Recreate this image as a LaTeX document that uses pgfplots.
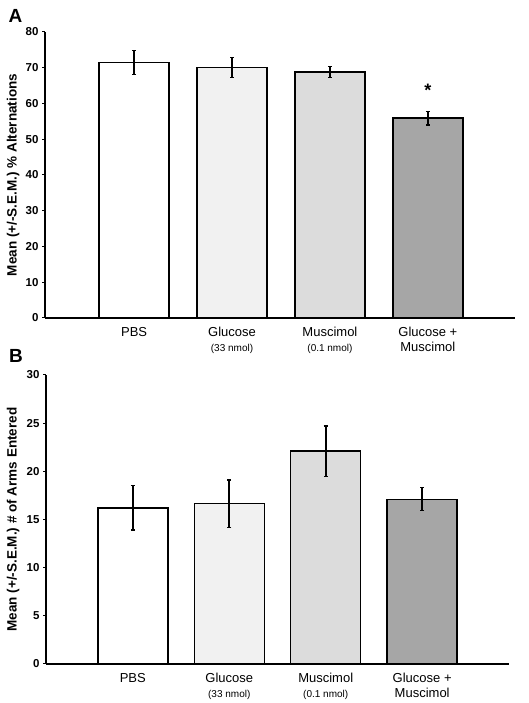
\documentclass[border=0pt]{standalone}
\usepackage{pgfplots}
\pgfplotsset{compat=1.18}
\usepackage{fontspec}
\setmainfont{Liberation Sans}
\definecolor{cGlu}{HTML}{F1F1F1}
\definecolor{cMus}{HTML}{DCDCDC}
\definecolor{cGM}{HTML}{A6A6A6}
\begin{document}
\begin{tikzpicture}[x=1pt,y=1pt]
\useasboundingbox (0,0) rectangle (528,703);
\pgfplotsset{
  myax/.style={
    scale only axis,
    axis x line=bottom, axis y line=left,
    axis line style={line width=1.3pt,-},
    xmin=-0.91, xmax=3.89,
    xtick={0,1,2,3},
    xtick style={draw=none},
    x tick label style={font=\fontsize{13}{15}\selectfont, align=center, anchor=north, yshift=-3pt},
    ytick style={line width=1pt, black},
    tick align=outside,
    major tick length=3pt,
    y tick label style={font=\fontsize{11.5}{12}\selectfont\bfseries},
    /pgf/number format/assume math mode=true,
    ylabel style={font=\fontsize{13.5}{14}\selectfont\bfseries, anchor=center, rotate=0},
    clip=false,
  },
  mybar/.style={ybar, bar shift=0pt, bar width=70pt, draw=black, line width=1.5pt,
    error bars/.cd, y dir=both, y explicit,
    error bar style={line width=1.8pt, black},
    error mark options={rotate=90, mark size=2pt, line width=1.2pt, black},
    /pgfplots/.cd},
}
% Panel A
\begin{axis}[myax, at={(45pt,385pt)}, anchor=south west,
  width=470pt, height=286pt,
  ymin=0, ymax=80, ytick={0,10,...,80},
  ylabel={Mean (+/-S.E.M.) \% Alternations},
  ylabel style={at={(axis description cs:-0.068,0.5)}},
  xticklabels={PBS\\\strut, Glucose\\{\fontsize{10}{15}\selectfont (33 nmol)}, Muscimol\\{\fontsize{10}{15}\selectfont (0.1 nmol)}, {Glucose +\\Muscimol}},
]
\addplot[mybar, fill=white] coordinates {(0,71.5) +- (0,3.3)};
\addplot[mybar, fill=cGlu] coordinates {(1,70.1) +- (0,2.8)};
\addplot[mybar, fill=cMus] coordinates {(2,68.8) +- (0,1.5)};
\addplot[mybar, fill=cGM] coordinates {(3,55.9) +- (0,1.9)};
\node[font=\fontsize{18}{18}\selectfont\bfseries] at (axis cs:3,63.6) {*};
\node[font=\fontsize{19}{19}\selectfont\bfseries, anchor=north west] at (rel axis cs:-0.085,1.09) {A};
\end{axis}
% Panel B
\begin{axis}[myax, at={(46pt,39pt)}, anchor=south west,
  width=463pt, height=289pt,
  ymin=0, ymax=30, ytick={0,5,...,30},
  ylabel={Mean (+/-S.E.M.) \# of Arms Entered},
  ylabel style={at={(axis description cs:-0.071,0.5)}},
  xmin=-0.9, xmax=3.9,
  xticklabels={PBS\\\strut, Glucose\\{\fontsize{10}{15}\selectfont (33 nmol)}, Muscimol\\{\fontsize{10}{15}\selectfont (0.1 nmol)}, {Glucose +\\Muscimol}},
]
\addplot[mybar, fill=white] coordinates {(0,16.2) +- (0,2.3)};
\addplot[mybar, fill=cGlu] coordinates {(1,16.65) +- (0,2.45)};
\addplot[mybar, fill=cMus] coordinates {(2,22.1) +- (0,2.6)};
\addplot[mybar, fill=cGM] coordinates {(3,17.1) +- (0,1.2)};
\node[font=\fontsize{19}{19}\selectfont\bfseries, anchor=north west] at (rel axis cs:-0.087,1.1) {B};
\end{axis}
\end{tikzpicture}
\end{document}
